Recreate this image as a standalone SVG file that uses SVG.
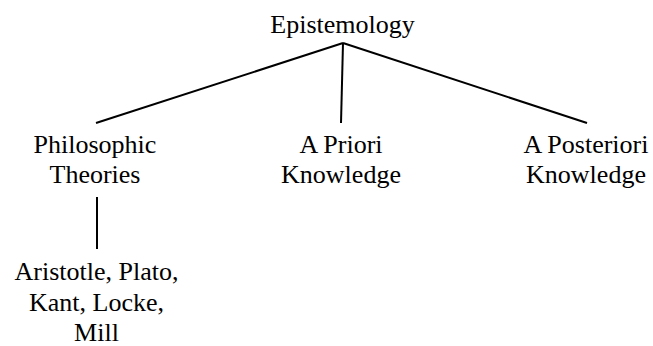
<svg xmlns="http://www.w3.org/2000/svg" width="653" height="346" viewBox="0 0 653 346">
  <style>
    .label { font-size: 26px; fill: #000; text-anchor: middle; }
    .edge { stroke: #000; stroke-width: 2; fill: none; stroke-linecap: butt; }
  </style>
  <rect width="653" height="346" fill="#fff"/>

  <!-- connectors -->
  <g id="connectors">
    <line class="edge" x1="343" y1="43" x2="96" y2="123"/>
    <line class="edge" x1="343" y1="43" x2="341" y2="123"/>
    <line class="edge" x1="343" y1="43" x2="587" y2="123"/>
    <line class="edge" x1="97" y1="197" x2="97" y2="249"/>
  </g>

  <!-- nodes -->
  <g font-family="Liberation Serif, DejaVu Serif, serif">
    <g id="epistemology">
      <text class="label" x="342.5" y="33">Epistemology</text>
    </g>
    <g id="philosophic-theories">
      <text class="label" x="95" y="153">Philosophic</text>
      <text class="label" x="95" y="183">Theories</text>
    </g>
    <g id="a-priori">
      <text class="label" x="341" y="153">A Priori</text>
      <text class="label" x="341" y="183">Knowledge</text>
    </g>
    <g id="a-posteriori">
      <text class="label" x="586" y="153">A Posteriori</text>
      <text class="label" x="586" y="183">Knowledge</text>
    </g>
    <g id="philosophers">
      <text class="label" x="96.5" y="280">Aristotle, Plato,</text>
      <text class="label" x="96.5" y="311">Kant, Locke,</text>
      <text class="label" x="96.5" y="341">Mill</text>
    </g>
  </g>
</svg>
